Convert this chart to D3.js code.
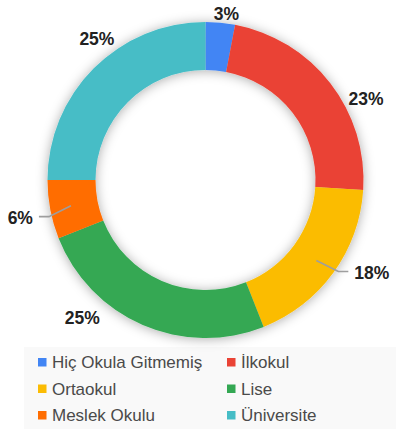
<!DOCTYPE html>
<html>
<head>
<meta charset="utf-8">
<script src="https://cdn.jsdelivr.net/npm/d3@7"></script>
<style>
  html, body { margin: 0; padding: 0; background: #fff; }
  svg { display: block; }
</style>
</head>
<body>
<svg id="chart" width="396" height="429"></svg>
<script>
// Education level distribution
const categories = ["Hiç Okula Gitmemiş", "İlkokul", "Ortaokul", "Lise", "Meslek Okulu", "Üniversite"];
const values = [3, 23, 18, 25, 6, 25];
const colors = ["#4285F4", "#EA4335", "#FBBC04", "#34A853", "#FF6D01", "#46BDC6"];

const W = 396, H = 429;
const cx = 205.5, cy = 180;
const outerR = 158, innerR = 110;

const svg = d3.select("#chart");

// soft shadow around the ring
const defs = svg.append("defs");
const f = defs.append("filter").attr("id", "ringShadow")
  .attr("x", "-20%").attr("y", "-20%").attr("width", "140%").attr("height", "140%");
f.append("feDropShadow").attr("dx", 0).attr("dy", 1).attr("stdDeviation", 6)
  .attr("flood-color", "#000").attr("flood-opacity", 0.33);

const data = categories.map((c, i) => ({ name: c, value: values[i], color: colors[i] }));
const pie = d3.pie().value(d => d.value).sort(null);
const arcs = pie(data);
const arc = d3.arc().innerRadius(innerR).outerRadius(outerR);

// legend panel
svg.append("rect").attr("x", 24).attr("y", 347).attr("width", W - 24).attr("height", H - 347)
  .attr("fill", "#f9f9f9");

const g = svg.append("g").attr("transform", `translate(${cx},${cy})`);
g.append("g").attr("filter", "url(#ringShadow)")
  .selectAll("path").data(arcs).join("path")
  .attr("d", arc)
  .attr("fill", d => d.data.color);

// label placement around the ring: angle shift (deg) and radius, or a leader line
const placement = {
  "Hiç Okula Gitmemiş": { shift: 1.8, r: 167 },
  "İlkokul": { shift: 10.9, r: 180 },
  "Ortaokul": { leader: true, side: 1 },
  "Lise": { shift: 18.4, r: 185 },
  "Meslek Okulu": { leader: true, side: -1 },
  "Üniversite": { shift: 7.4, r: 178 }
};

const fmt = v => Math.round(v) + "%";
const total = d3.sum(values);

arcs.forEach(d => {
  const p = placement[d.data.name];
  const mid = (d.startAngle + d.endAngle) / 2;
  const txt = fmt(d.data.value / total * 100);
  if (p.leader) {
    const s = d3.pointRadial(mid, 137);
    const e = d3.pointRadial(mid, 160);
    const elbow = [s[0] + p.side * 22, s[1] + (e[1] - s[1] >= 0 ? 11 : 12)];
    const end = [elbow[0] + p.side * 10, elbow[1]];
    g.append("path")
      .attr("d", d3.line()([s, elbow, end]))
      .attr("fill", "none").attr("stroke", "#9e9e9e").attr("stroke-width", 1.6);
    g.append("text")
      .attr("x", end[0] + p.side * 6).attr("y", end[1] + 1)
      .attr("text-anchor", p.side > 0 ? "start" : "end")
      .attr("dominant-baseline", "central")
      .attr("font-family", "Liberation Sans, Arial, sans-serif")
      .attr("font-weight", "bold").attr("font-size", 17.5).attr("fill", "#222")
      .text(txt);
  } else {
    const pt = d3.pointRadial(mid + p.shift * Math.PI / 180, p.r);
    g.append("text")
      .attr("x", pt[0]).attr("y", pt[1])
      .attr("text-anchor", "middle")
      .attr("dominant-baseline", "central")
      .attr("font-family", "Liberation Sans, Arial, sans-serif")
      .attr("font-weight", "bold").attr("font-size", 17.5).attr("fill", "#222")
      .text(txt);
  }
});

// legend, two columns
const legendCols = [38, 227];
const legendRows = [362, 388.5, 415];
const lg = svg.append("g");
data.forEach((d, i) => {
  const x = legendCols[i % 2], y = legendRows[Math.floor(i / 2)];
  lg.append("rect").attr("x", x).attr("y", y - 4).attr("width", 8.5).attr("height", 8.5)
    .attr("fill", d.color);
  lg.append("text").attr("x", x + 14).attr("y", y + 0.5)
    .attr("dominant-baseline", "central")
    .attr("font-family", "Liberation Sans, Arial, sans-serif")
    .attr("font-size", 17).attr("fill", "#4a4a4a")
    .text(d.name);
});
</script>
</body>
</html>
